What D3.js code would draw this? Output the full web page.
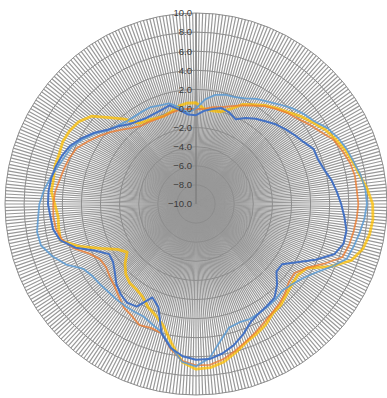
<!DOCTYPE html>
<html>
<head>
<meta charset="utf-8">
<script src="https://cdn.jsdelivr.net/npm/d3@7/dist/d3.min.js"></script>
<style>
  body { margin: 0; background: #fff; }
  svg { display: block; }
  .tick-label { font-family: "Liberation Sans", Arial, sans-serif; font-size: 9.5px; fill: #3a3a3a; }
</style>
</head>
<body>
<figure id="radar" style="margin:0"></figure>
<script>
// categories: degrees, clockwise from the top
const angles = d3.range(0, 360, 5);
const ticks = [-10, -8, -6, -4, -2, 0, 2, 4, 6, 8, 10];

const darkBlue = [
  -0.7, -0.2, 0.1, 0.4, 0.2, -0.2, 0.4, 0.9, 1.3, 1.8, 2.2, 2.6,
  3.0, 3.6, 3.6, 3.9, 4.4, 4.8, 5.2, 5.6, 6.0, 6.0, 5.4, 3.8,
  2.2, 1.0, 1.0, 2.0, 2.8, 3.0, 3.2, 3.6, 4.5, 5.3, 5.9, 6.3,
  6.3, 6.0, 5.3, 4.0, 1.5, 0.8, 2.4, 2.6, 2.3, 1.8, 1.1, 0.6,
  0.5, 1.6, 3.4, 4.7, 5.2, 5.3, 5.5, 5.5, 5.4, 5.2, 4.9, 4.5,
  3.8, 3.0, 2.1, 1.5, 0.9, 0.6, 0.4, 0.4, 0.5, 0.7, 0.0, -0.6
];
const lightBlue = [
  0.0, 1.0, 1.6, 1.85, 1.9, 2.2, 2.7, 3.1, 3.6, 4.2, 4.7, 5.1,
  5.9, 6.4, 6.8, 7.1, 7.5, 7.8, 7.9, 7.7, 7.4, 7.1, 6.8, 5.6,
  4.4, 3.6, 3.1, 2.8, 3.0, 3.1, 3.2, 3.3, 3.2, 3.4, 4.6, 6.2,
  7.0, 6.6, 5.2, 3.9, 3.4, 3.0, 3.0, 3.0, 3.0, 3.0, 3.1, 3.2,
  3.6, 5.0, 6.0, 6.8, 6.9, 6.6, 6.4, 6.0, 5.5, 5.0, 4.6, 4.3,
  3.6, 2.9, 2.0, 1.6, 1.3, 1.2, 1.2, 1.2, 1.0, 0.9, 0.3, -0.4
];
const orange = [
  -0.1, 0.0, 0.3, 0.5, 0.9, 1.4, 1.9, 2.5, 3.0, 3.5, 3.9, 4.5,
  5.1, 5.9, 6.3, 6.7, 6.9, 6.9, 7.0, 6.9, 6.75, 6.6, 6.3, 4.8,
  3.4, 2.6, 2.7, 3.2, 3.6, 3.9, 4.3, 4.8, 5.3, 5.9, 6.5, 6.9,
  6.9, 6.5, 5.4, 4.0, 3.8, 4.0, 3.5, 3.2, 2.6, 2.1, 1.8, 1.5,
  1.6, 2.3, 3.6, 4.5, 4.9, 5.0, 4.95, 4.8, 4.5, 4.3, 4.1, 3.8,
  3.1, 2.4, 1.7, 1.0, 0.4, 0.0, -0.1, -0.2, -0.2, -0.1, 0.0, 0.0
];
const gold = [
  0.6, 0.0, -0.1, 0.0, 0.6, 1.5, 2.0, 2.6, 3.1, 3.6, 4.3, 4.9,
  5.6, 6.1, 6.6, 7.0, 7.4, 8.0, 8.5, 8.6, 8.45, 8.1, 7.3, 5.5,
  3.4, 3.0, 3.1, 3.4, 3.8, 4.0, 4.6, 5.0, 5.4, 6.1, 6.8, 7.2,
  7.3, 6.6, 4.8, 3.2, 2.4, 1.9, 1.2, 0.9, 0.8, 0.4, -0.3, -1.2,
  -0.5, 1.0, 3.0, 4.7, 4.6, 4.5, 4.8, 5.2, 5.15, 5.3, 5.25, 5.4,
  5.3, 5.0, 4.3, 2.8, 1.6, 0.3, 0.1, -0.1, -0.2, 0.0, 0.4, 0.6
];

const series = [
  { color: "#FFC000", width: 2.8, opacity: 0.75, values: gold },
  { color: "#ED7D31", width: 1.8, opacity: 0.8, values: orange },
  { color: "#5B9BD5", width: 1.8, opacity: 0.85, values: lightBlue },
  { color: "#4472C4", width: 2, opacity: 1, values: darkBlue }
];

const width = 387;
const height = 398;
const cx = 196;
const cy = 204;
const radius = 191;
const spokeCount = 360;

const root = d3.select("figure#radar")
  .append("svg")
  .attr("width", width)
  .attr("height", height);

// soft edge on the dense grid, like the scanned original
root.append("defs")
  .append("filter")
  .attr("id", "soft")
  .append("feGaussianBlur")
  .attr("stdDeviation", 0.35);

const svg = root.append("g")
  .attr("transform", "translate(" + cx + "," + cy + ")");

const r = d3.scaleLinear().domain([-10, 10]).range([0, radius]);
const a = d3.scaleLinear().domain([0, 360]).range([0, 2 * Math.PI]);

const grid = svg.append("g").attr("filter", "url(#soft)");

// spokes, one per degree
grid.append("g")
  .selectAll("line")
  .data(d3.range(spokeCount))
  .enter()
  .append("line")
  .attr("x1", 0).attr("y1", 0)
  .attr("x2", d => radius * Math.sin(a(d)))
  .attr("y2", d => -radius * Math.cos(a(d)))
  .attr("stroke", "#989898")
  .attr("stroke-width", 1.2);

// rings
grid.append("g")
  .selectAll("circle")
  .data(ticks.slice(1))
  .enter()
  .append("circle")
  .attr("r", d => r(d))
  .attr("fill", "none")
  .attr("stroke", "#8c8c8c")
  .attr("stroke-width", 1);

// value axis
grid.append("line")
  .attr("x1", 0).attr("y1", 0)
  .attr("x2", 0).attr("y2", -radius)
  .attr("stroke", "#7a7a7a")
  .attr("stroke-width", 1.2);

// series
const line = d3.lineRadial()
  .angle((d, i) => a(angles[i]))
  .radius(d => r(d))
  .curve(d3.curveLinearClosed);

svg.append("g")
  .selectAll("path")
  .data(series)
  .enter()
  .append("path")
  .attr("d", d => line(d.values))
  .attr("fill", "none")
  .attr("stroke", d => d.color)
  .attr("stroke-width", d => d.width)
  .attr("stroke-opacity", d => d.opacity)
  .attr("stroke-linejoin", "round");

// tick labels
svg.append("g")
  .selectAll("text")
  .data(ticks)
  .enter()
  .append("text")
  .attr("class", "tick-label")
  .attr("x", -4)
  .attr("y", d => -r(d))
  .attr("dy", "0.35em")
  .attr("text-anchor", "end")
  .text(d => d3.format(".1f")(d));
</script>
</body>
</html>
